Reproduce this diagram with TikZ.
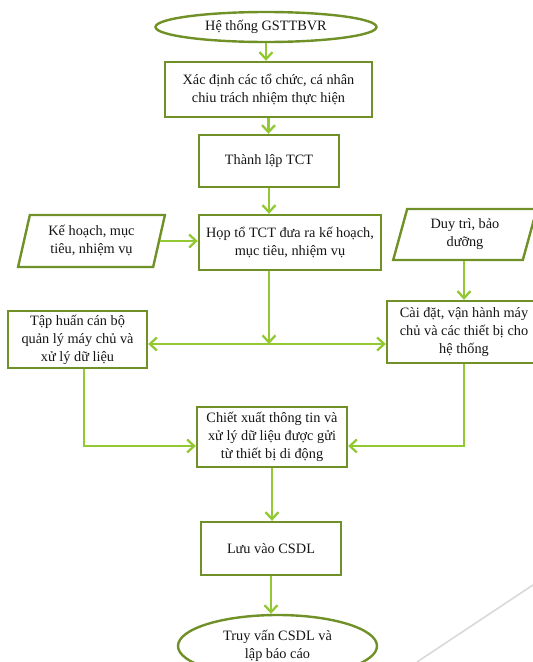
\documentclass[tikz,border=0pt]{standalone}
\usepackage{fontspec}
\setmainfont{Liberation Serif}
\usetikzlibrary{arrows.meta,shapes.geometric,calc}
\definecolor{bordc}{RGB}{112,145,40}
\definecolor{arrc}{RGB}{146,200,50}
\definecolor{txtc}{RGB}{20,20,20}
\begin{document}
\begin{tikzpicture}[x=1pt,y=-1pt,
  every node/.style={font=\fontsize{14.3}{18}\selectfont, text=txtc, align=center, inner sep=0pt},
  boxst/.style={draw=bordc, line width=2.4pt, rectangle},
  ellst/.style={draw=bordc, line width=2.4pt, ellipse},
  parst/.style={draw=bordc, line width=2.4pt, trapezium, trapezium left angle=75, trapezium right angle=105, trapezium stretches=true},
  arr/.style={draw=arrc, line width=2.3pt, -{Straight Barb[length=7pt,width=13pt,line width=2.3pt]}},
  ]
\useasboundingbox (0,0) rectangle (533,662);
\node[ellst, minimum width=221pt, minimum height=30pt] (e1) at (266,27) {Hệ thống GSTTBVR};
\node[boxst, minimum width=207pt, minimum height=55pt] (b1) at (268.5,89.5) {Xác định các tổ chức, cá nhân\\chiu trách nhiệm thực hiện};
\node[boxst, minimum width=140pt, minimum height=52pt] (b2) at (269,161) {Thành lập TCT};
\node[boxst, minimum width=182pt, minimum height=55pt] (b3) at (290,242.5) {Họp tổ TCT đưa ra kế hoạch,\\mục tiêu, nhiệm vụ};
\node[parst, minimum width=147pt, minimum height=52pt] (pL) at (91.5,241) {Kế hoạch, mục\\tiêu, nhiệm vụ};
\node[parst, minimum width=144pt, minimum height=51pt] (pR) at (465,234.5) {Duy trì, bảo\\dưỡng};
\node[boxst, minimum width=139pt, minimum height=57pt] (tl) at (77.5,339.5) {Tập huấn cán bộ\\quản lý máy chủ và\\xử lý dữ liệu};
\node[boxst, minimum width=154pt, minimum height=62pt] (tr) at (464,332) {Cài đặt, vận hành máy\\chủ và các thiết bị cho\\hệ thống};
\node[boxst, minimum width=150pt, minimum height=60pt] (b4) at (272,437) {Chiết xuất thông tin và\\xử lý dữ liệu được gửi\\từ thiết bị di động};
\node[boxst, minimum width=140pt, minimum height=53pt] (b5) at (271,548.5) {Lưu vào CSDL};
\node[ellst, minimum width=199pt, minimum height=62pt] (e2) at (277.5,646) {Truy vấn CSDL và\\lập báo cáo};
\coordinate (j) at (269,344);
\draw[arr] (e1.south) -- (e1.south |- b1.north);
\draw[arr] (b1.south) -- (b1.south |- b2.north);
\draw[arr] (b2.south) -- (b2.south |- b3.north);
\draw[arr] (pL.east) -- (pL.east -| b3.west);
\draw[arr] (b2.south |- b3.south) -- (j);
\draw[arr] (j) -- (j -| tl.east);
\draw[arr] (j) -- (j -| tr.west);
\draw[arr] (tr.north |- pR.south) -- (tr.north);
\draw[arr] ([xshift=6.5pt]tl.south) |- ([yshift=-9pt]b4.west);
\draw[arr] (tr.south) |- ([yshift=-9pt]b4.east);
\draw[arr] (b4.south) -- (b4.south |- b5.north);
\draw[arr] (b5.south) -- (b5.south |- e2.north);
\draw[black!15, line width=1.6pt] (417,662) -- (545,577);
\end{tikzpicture}
\end{document}
